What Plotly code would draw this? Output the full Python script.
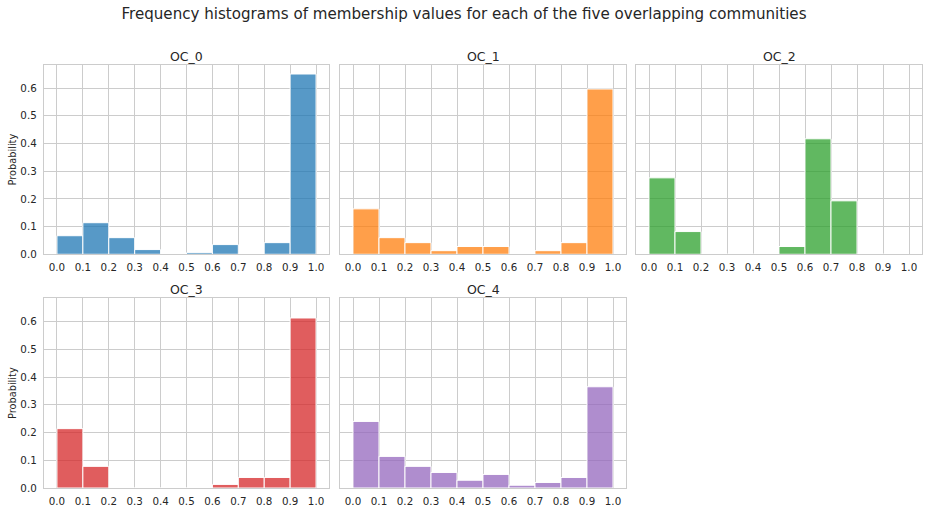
import plotly.graph_objects as go

bin_centers = [0.05, 0.15, 0.25, 0.35, 0.45, 0.55, 0.65, 0.75, 0.85, 0.95]
communities = ["OC_0", "OC_1", "OC_2", "OC_3", "OC_4"]
oc_0 = [0.067, 0.114, 0.060, 0.017, 0.0, 0.006, 0.035, 0.0, 0.042, 0.651]
oc_1 = [0.164, 0.060, 0.042, 0.013, 0.028, 0.028, 0.0, 0.013, 0.042, 0.597]
oc_2 = [0.276, 0.082, 0.0, 0.0, 0.0, 0.028, 0.417, 0.193, 0.0, 0.0]
oc_3 = [0.214, 0.078, 0.0, 0.0, 0.0, 0.0, 0.013, 0.038, 0.038, 0.613]
oc_4 = [0.240, 0.114, 0.078, 0.056, 0.028, 0.049, 0.010, 0.020, 0.038, 0.365]
series = [oc_0, oc_1, oc_2, oc_3, oc_4]
colors = ["rgba(31,119,180,0.75)", "rgba(255,127,14,0.75)", "rgba(44,160,44,0.75)",
          "rgba(214,39,40,0.75)", "rgba(148,103,189,0.75)"]
x_ticks = [i / 10 for i in range(11)]
x_ticklabels = [f"{v:.1f}" for v in x_ticks]
y_ticks = [i / 10 for i in range(7)]
y_ticklabels = [f"{v:.1f}" for v in y_ticks]

W, H = 928, 512
col_px = [(44, 329), (340, 626), (636, 922)]
row_px = [(64.5, 254), (298.2, 488)]
ml = col_px[0][0]
mr = W - col_px[2][1]
mt = row_px[0][0]
mb = H - row_px[1][1]
pw = W - ml - mr
ph = H - mt - mb

def clamp(v):
    return min(1.0, max(0.0, v))

def xdom(c):
    a, b = col_px[c]
    return [clamp((a - ml) / pw), clamp((b - ml) / pw)]

def ydom(r):
    a, b = row_px[r]
    return [clamp((H - mb - b) / ph), clamp((H - mb - a) / ph)]

FONT = "DejaVu Sans"
TXT = "#262626"
GRID = "#cccccc"
ymax = max(max(s) for s in series) * 1.05

fig = go.Figure()
layout = {}
annotations = []
for i, (name, vals, col) in enumerate(zip(communities, series, colors)):
    r, c = divmod(i, 3)
    n = i + 1
    xa = "x" if n == 1 else f"x{n}"
    ya = "y" if n == 1 else f"y{n}"
    fig.add_trace(go.Bar(
        x=bin_centers, y=vals, width=0.1, xaxis=xa, yaxis=ya,
        marker=dict(color=col, line=dict(color="white", width=1)),
        showlegend=False,
    ))
    layout[f"xaxis{'' if n == 1 else n}"] = dict(
        domain=xdom(c), anchor=ya, range=[-0.05, 1.05],
        tickvals=x_ticks, ticktext=x_ticklabels,
        showgrid=True, gridcolor=GRID, gridwidth=1, zeroline=False,
        showline=True, mirror=True, linecolor=GRID, linewidth=1.2,
        ticks="", tickfont=dict(family=FONT, size=10.3, color=TXT),
        ticklabelstandoff=3,
        automargin=False, fixedrange=True,
    )
    layout[f"yaxis{'' if n == 1 else n}"] = dict(
        domain=ydom(r), anchor=xa, range=[0, ymax],
        tickvals=y_ticks, ticktext=y_ticklabels, showticklabels=(c == 0),
        showgrid=True, gridcolor=GRID, gridwidth=1, zeroline=False,
        showline=True, mirror=True, linecolor=GRID, linewidth=1.2,
        ticks="", tickfont=dict(family=FONT, size=10.3, color=TXT),
        ticklabelstandoff=4,
        title=dict(text="Probability" if c == 0 else "", font=dict(family=FONT, size=9.8, color=TXT), standoff=2),
        automargin=False, fixedrange=True,
    )
    xd = xdom(c)
    yd = ydom(r)
    annotations.append(dict(
        text=name, x=(xd[0] + xd[1]) / 2, y=yd[1], xref="paper", yref="paper",
        xanchor="center", yanchor="bottom", yshift=-1, showarrow=False,
        font=dict(family=FONT, size=12.5, color=TXT),
    ))

fig.update_layout(
    width=W, height=H,
    margin=dict(l=ml, r=mr, t=mt, b=mb, autoexpand=False),
    paper_bgcolor="white", plot_bgcolor="white",
    bargap=0,
    title=dict(text="Frequency histograms of membership values for each of the five overlapping communities",
               x=464 / W, xref="container", xanchor="center", y=1 - 14 / H, yanchor="middle",
               font=dict(family=FONT, size=15.1, color=TXT)),
    annotations=annotations,
    **layout,
)

# remove the browser's default 8px body margin so the figure sits at the page origin
fig.write_html("out.html",
               config={"displayModeBar": False, "staticPlot": True},
               post_script="document.body.style.margin='0';document.body.style.overflow='hidden';")
